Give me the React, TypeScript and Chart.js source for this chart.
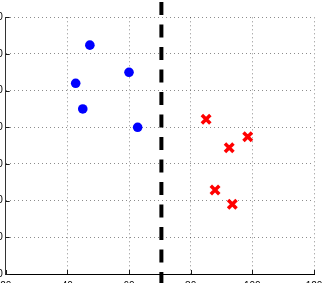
import React, { useEffect, useRef } from "react";
import { Chart, registerables } from "chart.js";

Chart.register(...registerables);

const classAX = [47.3, 60.0, 42.7, 45.0, 62.8];
const classAY = [92.4, 85.0, 82.0, 75.0, 70.0];
const classBX = [85.0, 98.5, 92.5, 87.9, 93.5];
const classBY = [72.2, 67.4, 64.4, 52.9, 49.0];
const boundaryX = [70.5, 70.5];
const boundaryY = [105, 25];
const xTicks = [20, 40, 60, 80, 100, 120];
const yTicks = [30, 40, 50, 60, 70, 80, 90, 100];

const toPts = (xs: number[], ys: number[]) => xs.map((x, i) => ({ x, y: ys[i] }));

const inwardTicks = {
  id: "inwardTicks",
  afterDatasetsDraw(chart: any) {
    const { ctx, chartArea, scales } = chart;
    const xs = scales.x;
    const ys = scales.y;
    ctx.save();
    ctx.strokeStyle = "#1a1a1a";
    ctx.lineWidth = 1;
    ctx.beginPath();
    xs.ticks.forEach((t: any) => {
      const px = Math.round(xs.getPixelForValue(t.value)) + 0.5;
      ctx.moveTo(px, chartArea.bottom);
      ctx.lineTo(px, chartArea.bottom - 4);
    });
    ys.ticks.forEach((t: any) => {
      const py = Math.round(ys.getPixelForValue(t.value)) + 0.5;
      ctx.moveTo(chartArea.left, py);
      ctx.lineTo(chartArea.left + 4, py);
    });
    ctx.stroke();
    ctx.restore();
  },
};

export default function App() {
  const ref = useRef<HTMLCanvasElement | null>(null);
  useEffect(() => {
    if (!ref.current) return;
    const chart = new Chart(ref.current, {
      type: "scatter",
      data: {
        datasets: [
          {
            data: toPts(classAX, classAY),
            pointStyle: "circle",
            pointRadius: 4.8,
            backgroundColor: "#0000ff",
            borderWidth: 0,
          },
          {
            data: toPts(classBX, classBY),
            pointStyle: "crossRot",
            pointRadius: 6,
            borderColor: "#ff0000",
            borderWidth: 3.5,
          },
          {
            data: toPts(boundaryX, boundaryY),
            showLine: true,
            pointRadius: 0,
            borderColor: "#000000",
            borderWidth: 4,
            borderDash: [13, 9.5],
            borderDashOffset: 19.5,
            borderCapStyle: "butt",
            clip: false,
          } as any,
        ],
      },
      options: {
        responsive: false,
        animation: false,
        layout: { padding: { top: 17.3, right: 26, left: 0, bottom: 0 } },
        plugins: { legend: { display: false }, tooltip: { enabled: false } },
        scales: {
          x: {
            type: "linear",
            min: xTicks[0],
            max: xTicks[xTicks.length - 1],
            afterBuildTicks: (s: any) => {
              s.ticks = xTicks.map((v) => ({ value: v }));
            },
            afterFit: (s: any) => {
              s.height = 26;
            },
            ticks: {
              padding: 6,
              color: "#000",
              font: { family: "Liberation Sans", size: 10 },
            },
            grid: { color: "rgba(0,0,0,0.45)", drawTicks: false },
            border: { color: "#000", width: 1, dash: [1, 3] },
          },
          y: {
            type: "linear",
            min: yTicks[0],
            max: yTicks[yTicks.length - 1],
            afterBuildTicks: (s: any) => {
              s.ticks = yTicks.map((v) => ({ value: v }));
            },
            afterFit: (s: any) => {
              s.width = 45.7;
            },
            ticks: {
              padding: 3,
              color: "#000",
              font: { family: "Liberation Sans", size: 10 },
            },
            grid: { color: "rgba(0,0,0,0.45)", drawTicks: false },
            border: { color: "#333", width: 1, dash: [1, 3] },
          },
        },
      },
      plugins: [inwardTicks],
    } as any);
    return () => chart.destroy();
  }, []);
  return (
    <div
      style={{
        position: "fixed",
        left: 0,
        top: 0,
        width: 330,
        height: 283,
        overflow: "hidden",
        background: "#fff",
      }}
    >
      <canvas
        ref={ref}
        width={380}
        height={300}
        style={{ position: "absolute", left: -40, top: 0, width: 380, height: 300 }}
      />
    </div>
  );
}
